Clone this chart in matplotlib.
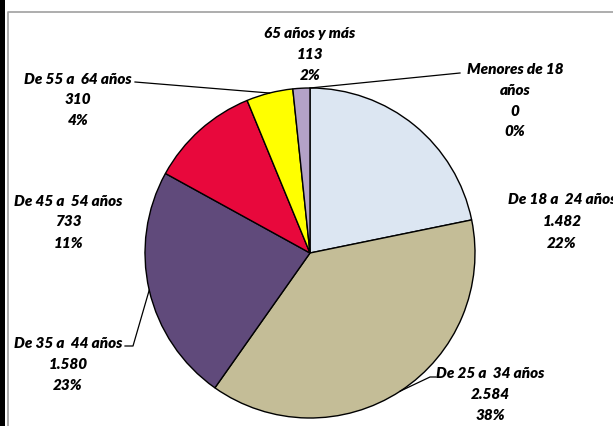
import matplotlib
matplotlib.use("Agg")
import matplotlib.pyplot as plt
import numpy as np
from matplotlib.lines import Line2D
from matplotlib.patches import Rectangle

categories = ["Menores de 18\naños", "De 18 a  24 años", "De 25 a  34 años",
              "De 35 a  44 años", "De 45 a  54 años", "De 55 a  64 años",
              "65 años y más"]
values = [0, 1482, 2584, 1580, 733, 310, 113]
pct_labels = ["0%", "22%", "38%", "23%", "11%", "4%", "2%"]
colors = ["#DCE6F2", "#DCE6F2", "#C4BD97", "#604A7B", "#E8083C", "#FFFF00", "#B3A2C7"]

W, H = 613, 426
fig = plt.figure(figsize=(W / 100, H / 100), dpi=100)
fig.patch.set_facecolor("white")

# pie axes: center (310,253), radius 165 px
cx, cy, r = 310, 253, 165
ax = fig.add_axes([(cx - r) / W, 1 - (cy + r) / H, 2 * r / W, 2 * r / H])
ax.pie(values, colors=colors, startangle=90, counterclock=False,
       wedgeprops=dict(edgecolor="black", linewidth=1.0))
ax.set_xlim(-1, 1)
ax.set_ylim(-1, 1)
ax.set_aspect("equal")
ax.axis("off")

font = dict(family=["Lato", "DejaVu Sans"], fontweight="heavy", fontstyle="italic",
            fontsize=11, color="black")

def fmt(v):
    return f"{v:,}".replace(",", ".")

# label block centers (pixels): x center, y of first line, line gap
label_pos = [(515, 70), (562, 200), (490, 373), (68, 343), (68, 201), (78, 80), (310, 33)]
gaps = [20.5, 21.5, 21.5, 21.5, 21, 20, 21.5]

for i, (lab, v, p) in enumerate(zip(categories, values, pct_labels)):
    lines = lab.split("\n") + [fmt(v), p]
    x0, y0 = label_pos[i]
    for j, t in enumerate(lines):
        fig.text(x0 / W, 1 - (y0 + j * gaps[i]) / H, t, ha="center", va="center", **font)

# leader lines (pixel coordinates) ending at slice mid-angle on pie edge
tot = sum(values)
cum = np.cumsum([0] + values) / tot
def edge_pt(k):
    a = np.deg2rad(90 - 360 * (cum[k] + cum[k + 1]) / 2)
    return cx + r * np.cos(a), cy - r * np.sin(a)

def pline(pts, color="black", lw=0.9):
    xs = [p[0] / W for p in pts]
    ys = [1 - p[1] / H for p in pts]
    ln = Line2D(xs, ys, color=color, lw=lw, transform=fig.transFigure)
    fig.add_artist(ln)
    return ln

pline([(460, 73), edge_pt(0)])
pline([(135, 82), edge_pt(5)])
pline([(125, 346), (133, 346), edge_pt(3)])
pline([(436, 377), (430, 377), edge_pt(2)])

# frame
fig.add_artist(Rectangle((0, 0), 5 / W, 1, transform=fig.transFigure, color="black", lw=0))
pline([(7.5, 426), (7.5, 11.5), (613, 11.5)], color="#A0A0A0", lw=1.2)

fig.savefig("out.png", dpi=100)
